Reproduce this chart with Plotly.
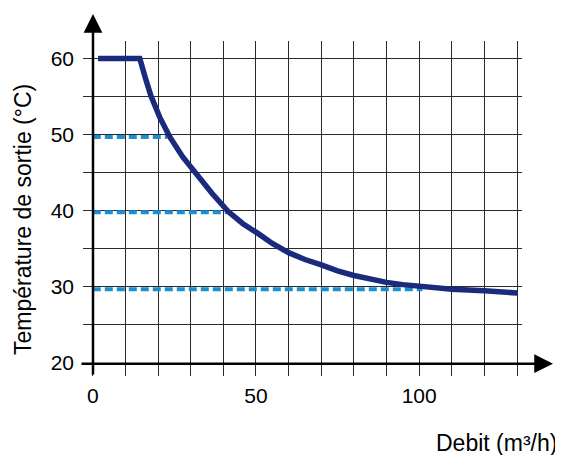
import plotly.graph_objects as go

# Data
debit = [1.6, 14.4, 16.0, 17.8, 20.5, 23.6, 27.5, 31.8, 36.5, 41.5, 46.0, 50.7, 55.0,
         60, 65, 70, 75, 80, 85, 90, 95, 100, 110, 120, 130]
temperature = [60, 60, 57.6, 55.1, 52.3, 49.7, 47.1, 44.7, 42.3, 39.9, 38.3, 37.0, 35.7,
               34.5, 33.6, 32.9, 32.1, 31.5, 31.0, 30.6, 30.3, 30.1, 29.7, 29.5, 29.2]

ref_temps = [49.7, 39.8, 29.7]
ref_debits = [22.8, 41.2, 101]

x_ticks = list(range(0, 140, 10))
x_ticktext = ["0", "", "", "", "", "50", "", "", "", "", "100", "", "", ""]
y_ticks = [20, 25, 30, 35, 40, 45, 50, 55, 60]
y_ticktext = ["20", "", "30", "", "40", "", "50", "", "60"]

XR = [-3, 131.5]
YR = [18.3, 62.3]

W, H = 555, 447
L, R, T, B = 75, 41, 33, 79

fig = go.Figure()

for t, d in zip(ref_temps, ref_debits):
    fig.add_trace(go.Scatter(x=[0, d], y=[t, t], mode="lines",
                             line=dict(color="#1a8fd6", width=4, dash="8px,4px"),
                             hoverinfo="skip", showlegend=False))

fig.add_trace(go.Scatter(x=debit, y=temperature, mode="lines",
                         line=dict(color="#1c2a7e", width=5.5),
                         showlegend=False))

tick_font = dict(family="Liberation Sans, Arial, sans-serif", size=21, color="black")
title_font = dict(family="Liberation Sans, Arial, sans-serif", size=23, color="black")

fig.update_layout(
    width=W, height=H,
    margin=dict(l=L, r=R, t=T, b=B),
    plot_bgcolor="white", paper_bgcolor="white",
    xaxis=dict(range=XR, tickvals=x_ticks, ticktext=x_ticktext, showgrid=True,
               gridcolor="#2a2a2a", gridwidth=1.4, zeroline=False, showline=False,
               ticks="", ticklabelstandoff=5, tickfont=tick_font, fixedrange=True),
    yaxis=dict(range=YR, tickvals=y_ticks, ticktext=y_ticktext, showgrid=True,
               gridcolor="#2a2a2a", gridwidth=1.4, zeroline=False, showline=False,
               ticks="", ticklabelstandoff=8, tickfont=tick_font, fixedrange=True),
)

PW = W - L - R
PH = H - T - B

def px_x(p):
    return (p - L) / PW

def px_y(p):
    return (H - B - p) / PH

# x axis with arrow
fig.add_annotation(xref="paper", yref="paper", x=px_x(545), y=px_y(355.7),
                   ax=72 - 545, ay=0, axref="pixel", ayref="pixel",
                   showarrow=True, arrowhead=2, arrowsize=1.5, arrowwidth=2.5,
                   arrowcolor="black", text="")
# y axis with arrow
fig.add_annotation(xref="paper", yref="paper", x=px_x(85), y=px_y(6),
                   ax=0, ay=368 - 6, axref="pixel", ayref="pixel",
                   showarrow=True, arrowhead=2, arrowsize=1.5, arrowwidth=2.5,
                   arrowcolor="black", text="")

fig.add_annotation(xref="paper", yref="paper", x=px_x(15), y=px_y(212),
                   text="Température de sortie (°C)", textangle=-90, showarrow=False,
                   font=title_font, xanchor="center", yanchor="middle")
fig.add_annotation(xref="paper", yref="paper", x=px_x(551), y=px_y(435),
                   text="Debit (m³/h)", showarrow=False,
                   font=title_font, xanchor="right", yanchor="middle")

fig.write_html("out.html")
